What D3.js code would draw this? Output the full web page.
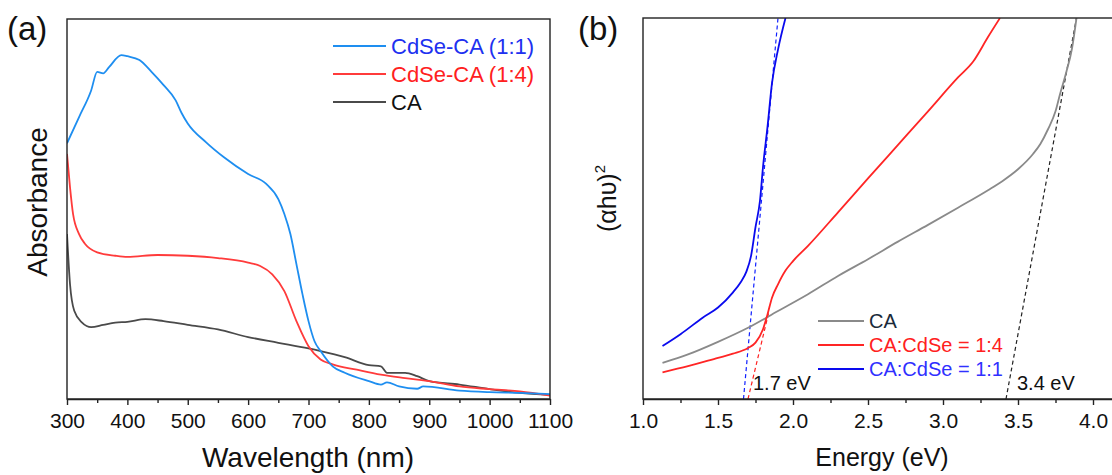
<!DOCTYPE html>
<html lang="en">
<head>
<meta charset="UTF-8"/>
<title>CdSe-CA absorbance and Tauc plot</title>
<script src="https://d3js.org/d3.v7.min.js"></script>
<style type="text/css">
  body { margin: 0; background: #fff; }
  svg { font-family: "Liberation Sans", Arial, sans-serif; }
  .line { fill: none; stroke-width: 1.8; stroke-linejoin: round; }
  .fit { fill: none; stroke-width: 1.2; stroke-dasharray: 4, 3; }
  .axis path, .axis line { stroke: #222; stroke-width: 1.4; }
  .axis text { fill: #111; font-size: 21px; font-family: "Liberation Sans", Arial, sans-serif; }
</style>
</head>
<body>
<script>

// ---- panel (a) data: absorbance vs wavelength (arbitrary units) ----
var wl11 = [300, 320, 340, 350, 360, 370, 390, 400, 420, 440, 460, 480, 490, 500, 530, 560, 600, 630, 650, 660, 670, 680, 690, 700, 710, 720, 740, 760, 800, 820, 830, 850, 880, 890, 950, 1000, 1050, 1100];
var abs11 = [0.673, 0.742, 0.812, 0.861, 0.857, 0.874, 0.905, 0.902, 0.892, 0.861, 0.826, 0.786, 0.752, 0.725, 0.676, 0.636, 0.592, 0.566, 0.526, 0.487, 0.434, 0.355, 0.276, 0.205, 0.152, 0.126, 0.086, 0.069, 0.047, 0.038, 0.044, 0.033, 0.027, 0.033, 0.022, 0.018, 0.016, 0.013];

var wl14 = [300, 305, 310, 320, 330, 350, 380, 400, 450, 500, 550, 600, 620, 640, 660, 680, 700, 720, 740, 780, 820, 860, 900, 950, 1000, 1050, 1100];
var abs14 = [0.645, 0.557, 0.487, 0.434, 0.408, 0.386, 0.377, 0.374, 0.379, 0.377, 0.371, 0.359, 0.35, 0.328, 0.284, 0.205, 0.139, 0.104, 0.091, 0.077, 0.064, 0.055, 0.047, 0.033, 0.026, 0.02, 0.009];

var wlCA = [300, 305, 312, 325, 340, 360, 380, 400, 430, 460, 500, 550, 600, 650, 700, 720, 760, 800, 820, 830, 860, 880, 900, 950, 1000, 1050, 1100];
var absCA = [0.434, 0.302, 0.232, 0.201, 0.189, 0.195, 0.201, 0.203, 0.21, 0.205, 0.195, 0.183, 0.163, 0.148, 0.133, 0.126, 0.11, 0.089, 0.086, 0.069, 0.069, 0.06, 0.047, 0.038, 0.026, 0.016, 0.011];

var legendA = ["CdSe-CA (1:1)", "CdSe-CA (1:4)", "CA"];
var ticksA = [300, 400, 500, 600, 700, 800, 900, 1000, 1100];

// ---- panel (b) data: (alpha h nu)^2 vs energy (arbitrary units) ----
var eB11 = [1.13, 1.25, 1.4, 1.5, 1.6, 1.65, 1.69, 1.72, 1.75, 1.78, 1.8, 1.83, 1.86, 1.9, 1.95];
var tB11 = [0.139, 0.17, 0.214, 0.24, 0.28, 0.306, 0.335, 0.375, 0.451, 0.521, 0.609, 0.714, 0.829, 0.917, 1.0];

var eB14 = [1.13, 1.3, 1.5, 1.6, 1.7, 1.75, 1.8, 1.83, 1.86, 1.9, 1.95, 2.0, 2.1, 2.3, 2.5, 2.7, 2.9, 3.1, 3.2, 3.3, 3.38];
var tB14 = [0.07, 0.086, 0.108, 0.119, 0.134, 0.148, 0.183, 0.222, 0.266, 0.301, 0.337, 0.362, 0.402, 0.49, 0.579, 0.667, 0.755, 0.844, 0.885, 0.95, 1.0];

var eBCA = [1.13, 1.3, 1.5, 1.7, 1.9, 2.1, 2.3, 2.5, 2.7, 2.9, 3.1, 3.3, 3.4, 3.5, 3.6, 3.65, 3.7, 3.75, 3.78, 3.82, 3.86, 3.89];
var tBCA = [0.095, 0.117, 0.15, 0.187, 0.231, 0.275, 0.323, 0.367, 0.413, 0.457, 0.502, 0.548, 0.573, 0.603, 0.643, 0.67, 0.708, 0.755, 0.8, 0.855, 0.92, 1.0];

// tangent lines (start / end points)
var fit11 = [[1.67, 0], [1.9, 1.0]];
var fit14 = [[1.70, 0], [1.84, 0.23]];
var fitCA = [[3.42, 0], [3.89, 1.0]];

var legendB = ["CA", "CA:CdSe = 1:4", "CA:CdSe = 1:1"];
var ticksB = [1.0, 1.5, 2.0, 2.5, 3.0, 3.5, 4.0];

function zip(xs, ys) { return xs.map(function(x, i) { return [x, ys[i]]; }); }

var svg = d3.select("body").append("svg")
    .attr("width", 1112)
    .attr("height", 475);

// ================= panel (a) =================
var xA = d3.scaleLinear().domain([300, 1100]).range([67, 550]);
var yA = d3.scaleLinear().domain([0, 1]).range([399, 19]);

svg.append("clipPath").attr("id", "clipA")
  .append("rect").attr("x", 67).attr("y", 19).attr("width", 483).attr("height", 380);

var lineA = d3.line()
    .x(function(d) { return xA(d[0]); })
    .y(function(d) { return yA(d[1]); })
    .curve(d3.curveMonotoneX);

var seriesA = [
  {data: zip(wlCA, absCA), color: "#4a4a4a"},
  {data: zip(wl14, abs14), color: "#ff3b3b"},
  {data: zip(wl11, abs11), color: "#1e8ef0"}
];
seriesA.forEach(function(s) {
  svg.append("path")
      .datum(s.data)
      .attr("class", "line")
      .attr("clip-path", "url(#clipA)")
      .attr("stroke", s.color)
      .attr("d", lineA);
});

// box
svg.append("rect").attr("x", 67).attr("y", 19).attr("width", 483).attr("height", 380)
    .attr("fill", "none").attr("stroke", "#222").attr("stroke-width", 1.4);

// minor ticks
svg.append("g").attr("class", "axis")
    .attr("transform", "translate(0,399)")
    .call(d3.axisBottom(xA).tickValues(d3.range(350, 1100, 100)).tickSize(4).tickFormat(""))
    .select(".domain").remove();

svg.append("g").attr("class", "axis")
    .attr("transform", "translate(0,399)")
    .call(d3.axisBottom(xA).tickValues(ticksA).tickSize(6).tickSizeOuter(0).tickPadding(8).tickFormat(d3.format("d")));

svg.append("text").attr("x", 308).attr("y", 467)
    .attr("text-anchor", "middle").attr("font-size", 28).attr("fill", "#111")
    .text("Wavelength (nm)");

svg.append("text")
    .attr("transform", "translate(47,202) rotate(-90)")
    .attr("text-anchor", "middle").attr("font-size", 28).attr("fill", "#111")
    .text("Absorbance");

svg.append("text").attr("x", 7).attr("y", 40)
    .attr("font-size", 33).attr("fill", "#111").text("(a)");

var legA = [
  {label: legendA[0], line: "#1e8ef0", text: "#2030f0"},
  {label: legendA[1], line: "#ff3b3b", text: "#ff2020"},
  {label: legendA[2], line: "#4a4a4a", text: "#111"}
];
legA.forEach(function(l, i) {
  var y = 46 + i * 28;
  svg.append("line").attr("x1", 333).attr("x2", 386).attr("y1", y).attr("y2", y)
      .attr("stroke", l.line).attr("stroke-width", 2);
  svg.append("text").attr("x", 391).attr("y", y + 8)
      .attr("font-size", 22).attr("fill", l.text).text(l.label);
});

// ================= panel (b) =================
var xB = d3.scaleLinear().domain([1.0, 4.2]).range([643, 1123]);
var yB = d3.scaleLinear().domain([0, 1]).range([399, 18]);

svg.append("clipPath").attr("id", "clipB")
  .append("rect").attr("x", 643).attr("y", 18).attr("width", 480).attr("height", 381);

var lineB = d3.line()
    .x(function(d) { return xB(d[0]); })
    .y(function(d) { return yB(d[1]); })
    .curve(d3.curveMonotoneX);

var fitsB = [
  {data: fitCA, color: "#222"},
  {data: fit14, color: "#ff2020"},
  {data: fit11, color: "#1020ff"}
];
fitsB.forEach(function(s) {
  svg.append("path")
      .datum(s.data)
      .attr("class", "fit")
      .attr("clip-path", "url(#clipB)")
      .attr("stroke", s.color)
      .attr("d", d3.line().x(function(d) { return xB(d[0]); }).y(function(d) { return yB(d[1]); }));
});

var seriesB = [
  {data: zip(eBCA, tBCA), color: "#8a8a8a"},
  {data: zip(eB14, tB14), color: "#ff2525"},
  {data: zip(eB11, tB11), color: "#0a0aee"}
];
seriesB.forEach(function(s) {
  svg.append("path")
      .datum(s.data)
      .attr("class", "line")
      .attr("clip-path", "url(#clipB)")
      .attr("stroke", s.color)
      .attr("d", lineB);
});

svg.append("rect").attr("x", 643).attr("y", 18).attr("width", 480).attr("height", 381)
    .attr("fill", "none").attr("stroke", "#222").attr("stroke-width", 1.4);

svg.append("g").attr("class", "axis")
    .attr("transform", "translate(0,399)")
    .call(d3.axisBottom(xB).tickValues(d3.range(1.25, 4.0, 0.5)).tickSize(4).tickFormat(""))
    .select(".domain").remove();

svg.append("g").attr("class", "axis")
    .attr("transform", "translate(0,399)")
    .call(d3.axisBottom(xB).tickValues(ticksB).tickSize(6).tickSizeOuter(0).tickPadding(8).tickFormat(d3.format(".1f")));

svg.append("text").attr("x", 882).attr("y", 466)
    .attr("text-anchor", "middle").attr("font-size", 25).attr("fill", "#111")
    .text("Energy (eV)");

var yLab = svg.append("text")
    .attr("transform", "translate(616,192) rotate(-90)")
    .attr("font-size", 25).attr("fill", "#111");
yLab.append("tspan").attr("x", -40).text("(\u03b1h\u03c5)");
yLab.append("tspan").attr("font-size", 15).attr("dy", -11).text("2");

svg.append("text").attr("x", 578).attr("y", 40)
    .attr("font-size", 33).attr("fill", "#111").text("(b)");

svg.append("text").attr("x", 753).attr("y", 390)
    .attr("font-size", 20).attr("fill", "#111").text("1.7 eV");
svg.append("text").attr("x", 1017).attr("y", 390)
    .attr("font-size", 20).attr("fill", "#111").text("3.4 eV");

var legB = [
  {label: legendB[0], line: "#8a8a8a", text: "#1a2a3a"},
  {label: legendB[1], line: "#ff2525", text: "#ff2020"},
  {label: legendB[2], line: "#0a0aee", text: "#3030ff"}
];
legB.forEach(function(l, i) {
  var y = 321 + i * 24;
  svg.append("line").attr("x1", 818).attr("x2", 864).attr("y1", y).attr("y2", y)
      .attr("stroke", l.line).attr("stroke-width", 2);
  svg.append("text").attr("x", 869).attr("y", y + 7)
      .attr("font-size", 20).attr("fill", l.text).text(l.label);
});

</script>
</body>
</html>
